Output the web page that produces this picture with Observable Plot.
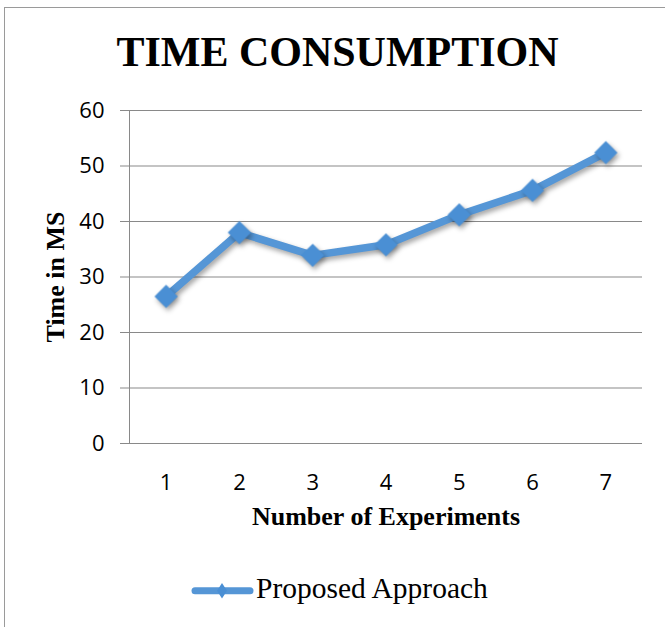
<!DOCTYPE html>
<html>
<head>
<meta charset="utf-8">
<script src="https://cdn.jsdelivr.net/npm/d3@7"></script>
<script src="https://cdn.jsdelivr.net/npm/@observablehq/plot@0.6"></script>
<style>
  html, body { margin: 0; padding: 0; background: #fff; }
  #wrap { position: relative; width: 665px; height: 627px; overflow: hidden; background: #fff; }
  #frame { position: absolute; left: 4px; top: 7px; width: 700px; height: 700px;
           border-left: 1.5px solid #9a9a9a; border-top: 1.5px solid #9a9a9a; }
  #title { position: absolute; left: 0; width: 675px; top: 31px; text-align: center;
           font-family: "Liberation Serif", "Times New Roman", serif; font-weight: bold;
           font-size: 42px; line-height: 43px; color: #000; white-space: nowrap; }
  #chart { position: absolute; left: 0; top: 90px; }
  #legend { position: absolute; left: 190px; top: 575px; height: 32px; white-space: nowrap; }
  #legend svg { position: absolute; left: 0; top: 0; }
  #legend span { position: absolute; left: 66px; top: -1px; font-family: "Liberation Serif", "Times New Roman", serif;
                 font-size: 29.5px; line-height: 29px; color: #000; }
  g[aria-label="line"], g[aria-label="dot"] { filter: drop-shadow(2px 3px 2.5px rgba(0,0,0,0.35)); }
</style>
</head>
<body>
<div id="wrap">
  <div id="frame"></div>
  <div id="title"></div>
  <div id="chart"></div>
  <div id="legend">
    <svg width="70" height="32">
      <line x1="5" y1="15.7" x2="60" y2="15.7" stroke="#5596d6" stroke-width="7" stroke-linecap="round"></line>
      <polygon points="32,8 37,15.7 32,23.4 27,15.7" fill="#4a8fd4"></polygon>
    </svg>
    <span id="legendText"></span>
  </div>
</div>
<script>
const titleText = "TIME CONSUMPTION";
const seriesName = "Proposed Approach";
const xTitle = "Number of Experiments";
const yTitle = "Time in MS";
const experiments = [1, 2, 3, 4, 5, 6, 7];
const timeMs = [26.5, 38.0, 33.9, 35.8, 41.2, 45.6, 52.4];
const yTicks = [0, 10, 20, 30, 40, 50, 60];

document.getElementById("title").textContent = titleText;
document.getElementById("legendText").textContent = seriesName;

const data = experiments.map((e, i) => ({experiment: e, time: timeMs[i]}));
const blue = "#5596d6";
const gray = "#898989";
const serif = "Liberation Serif, Times New Roman, serif";

const chart = Plot.plot({
  width: 665,
  height: 460,
  marginLeft: 129,
  marginRight: 23,
  marginTop: 20,
  marginBottom: 107,
  style: {fontFamily: "Open Sans, sans-serif", fontSize: "22px", background: "transparent", overflow: "visible"},
  x: {domain: [0.5, 7.5], label: null},
  y: {domain: [0, 60], label: null},
  marks: [
    Plot.gridY(yTicks, {stroke: gray, strokeOpacity: 1, strokeWidth: 1}),
    Plot.ruleX([0.5], {stroke: gray, strokeWidth: 1}),
    Plot.axisY(yTicks, {tickSize: 9, tickPadding: 16, stroke: gray, fill: "#000", fontSize: 22, label: null}),
    Plot.axisX(experiments, {tickSize: 0, tickPadding: 31, fill: "#000", fontSize: 22, label: null}),
    Plot.line(data, {x: "experiment", y: "time", stroke: blue, strokeWidth: 7.5, strokeLinejoin: "round", strokeLinecap: "round"}),
    Plot.dot(data, {x: "experiment", y: "time", symbol: "diamond2", r: 10.5, fill: "#4a8fd4", stroke: "none"}),
    Plot.text([yTitle], {text: d => d, frameAnchor: "left", textAnchor: "middle", lineAnchor: "middle", rotate: -90, dx: -74, fontSize: 26, fontWeight: "bold", fontFamily: serif, fill: "#000"}),
    Plot.text([xTitle], {text: d => d, frameAnchor: "bottom", textAnchor: "middle", lineAnchor: "middle", dy: 73.5, fontSize: 26, fontWeight: "bold", fontFamily: serif, fill: "#000"})
  ]
});
document.getElementById("chart").appendChild(chart);
</script>
</body>
</html>
